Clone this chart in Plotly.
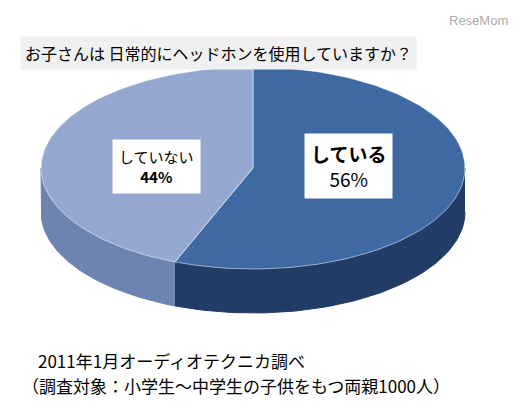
import numpy as np
import plotly.graph_objects as go

labels = ["している", "していない"]
values = [56, 44]
top_colors = ["#3f69a3", "#95a8cf"]
side_colors = ["#213d66", "#6d84b0"]

cx, cy, rx, ry, depth = 245, 160, 212, 101, 44

def pt(t):
    return cx + rx * np.sin(t), cy - ry * np.cos(t)

fig = go.Figure()
total = sum(values)
start = 0.0
slices = []
for v in values:
    end = start + v / total * 2 * np.pi
    slices.append((start, end))
    start = end

# side walls (front half only)
for (a, b), col in zip(slices, side_colors):
    lo, hi = max(a, np.pi / 2), min(b, 3 * np.pi / 2)
    if hi <= lo:
        continue
    t = np.linspace(lo, hi, 80)
    x, y = pt(t)
    xs = np.concatenate([x, x[::-1]])
    ys = np.concatenate([y, (y + depth)[::-1]])
    fig.add_trace(go.Scatter(x=xs, y=ys, fill="toself", fillcolor=col,
                             line=dict(color=col, width=1), mode="lines", hoverinfo="skip"))

for (a, b), col in zip(slices, top_colors):
    t = np.linspace(a, b, 120)
    x, y = pt(t)
    fig.add_trace(go.Scatter(x=np.concatenate([[cx], x, [cx]]), y=np.concatenate([[cy], y, [cy]]),
                             fill="toself", fillcolor=col, line=dict(color="white", width=0.5),
                             mode="lines", hoverinfo="skip"))

font = "Noto Sans CJK JP"
fig.add_annotation(x=340, y=158, text="<b>している</b><br>56%", showarrow=False,
                   font=dict(family=font, size=19, color="black"), bgcolor="white",
                   borderpad=6, align="center")
fig.add_annotation(x=148, y=158, text="していない<br><b>44%</b>", showarrow=False,
                   font=dict(family=font, size=15, color="black"), bgcolor="white",
                   borderpad=6, align="center")
fig.add_annotation(x=12, y=45, xanchor="left", text="お子さんは 日常的にヘッドホンを使用していますか？",
                   showarrow=False, font=dict(family=font, size=16, color="black"),
                   bgcolor="#f0f0f0", borderpad=4)
fig.add_annotation(x=470, y=12, xanchor="center", text="ReseMom", showarrow=False,
                   font=dict(family="Liberation Sans", size=13, color="#aaaaaa"))
fig.add_annotation(x=28, y=352, xanchor="left", text="2011年1月オーディオテクニカ調べ",
                   showarrow=False, font=dict(family=font, size=17, color="black"))
fig.add_annotation(x=12, y=377, xanchor="left", text="（調査対象：小学生～中学生の子供をもつ両親1000人）",
                   showarrow=False, font=dict(family=font, size=17, color="black"))

fig.update_layout(width=530, height=408, margin=dict(l=0, r=0, t=0, b=0),
                  paper_bgcolor="white", plot_bgcolor="white", showlegend=False,
                  xaxis=dict(range=[0, 530], visible=False, fixedrange=True),
                  yaxis=dict(range=[408, 0], visible=False, fixedrange=True))
fig.write_html("out.html")
